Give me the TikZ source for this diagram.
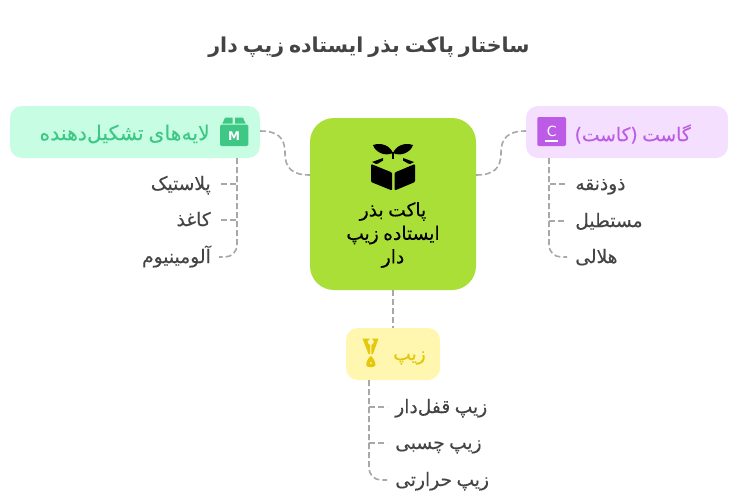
\documentclass[tikz,border=0pt]{standalone}
\usepackage{fontspec}
\newfontfamily\arabicfont[Script=Arabic,WordSpace=0.75,FakeBold=0.12]{DejaVu Sans}
\newfontfamily\titlefont[Script=Arabic,WordSpace=0.7]{DejaVu Sans Bold}
\setmainfont{DejaVu Sans}
\TeXXeTstate=1
\newcommand{\fa}[1]{{\arabicfont\beginR #1\endR}}
\usepackage{xcolor}
\definecolor{rootgreen}{HTML}{A9DF36}
\definecolor{mintbox}{HTML}{C7FEE3}
\definecolor{mintink}{HTML}{3FC885}
\definecolor{lilacbox}{HTML}{F4DFFF}
\definecolor{lilacink}{HTML}{BC5BE6}
\definecolor{lemonbox}{HTML}{FFF6AF}
\definecolor{lemonink}{HTML}{E5C70C}
\definecolor{leafink}{HTML}{444444}
\definecolor{linkgray}{HTML}{A8A8A8}
\usetikzlibrary{arrows.meta}
\tikzset{
  headbox/.style={rounded corners=9pt,inner sep=0pt},
  headtext/.style={inner sep=0pt,font=\fontsize{14pt}{17pt}\selectfont},
  leaftext/.style={inner xsep=6pt,inner ysep=0pt,text=leafink,text height=10.5pt,text depth=1.5pt,
    font=\fontsize{14pt}{17pt}\selectfont},
  link/.style={draw=linkgray,line width=1.2pt,dash pattern=on 4.5pt off 2.25pt},
  lastlink/.style={link,rounded corners=9pt},
}

\begin{document}
\begin{tikzpicture}[x=0.75pt,y=-0.75pt]
  \path[use as bounding box,fill=white] (0,0) rectangle (753,503);

  \node[text=leafink,font=\fontsize{15.4pt}{19pt}\selectfont,inner sep=0pt](title) at (369,47) {{\titlefont\beginR ساختار پاکت بذر ایستاده زیپ دار\endR}};

  % root
  \node[fill=rootgreen,rounded corners=18pt,inner sep=0pt,minimum width=124.5pt,minimum height=129pt](root) at (393,204) {};
  \node[align=center,inner sep=0pt,font=\fontsize{14pt}{17.6pt}\selectfont](roottext) at (393,235) {\fa{پاکت بذر}\\\fa{ایستاده زیپ}\\\fa{دار}};
  \fill[rounded corners=.8pt] (371,164) -- (392,172.5) -- (392,190.5) -- (371,182) -- cycle;
  \fill[rounded corners=.8pt] (394.7,172.5) -- (415,164) -- (415,182) -- (394.7,190.5) -- cycle;
  \fill (372,162) -- (383,158) -- (383,160.5) -- (378,163.5) -- (376,164) -- cycle;
  \fill (414,162) -- (403,158) -- (403,160.5) -- (408,163.5) -- (410,164) -- cycle;
  \fill (393,153) .. controls (390,146) and (382,142) .. (373,145) .. controls (375,152) and (385,157) .. cycle;
  \fill (393,153) .. controls (396,146) and (404,142) .. (413,145) .. controls (411,152) and (401,157) .. cycle;
  \draw[line width=1pt] (393,152) -- (393,159);

  % layers
  \node[headbox,fill=mintbox,minimum width=187.5pt,minimum height=39pt](layers) at (135,132) {};
  \node[headtext,text=mintink,anchor=east,font=\fontsize{15.3pt}{17pt}\selectfont](layerstext) at (210,134) {\fa{لایه‌های تشکیل‌دهنده}};
  \fill[mintink,rounded corners=1pt] (220,124.7) rectangle (248.3,146);
  \fill[mintink] (222.3,123.7) -- (225,117.7) -- (232.7,117.7) -- (232.7,123.7) -- cycle;
  \fill[mintink] (235,123.7) -- (235,117.7) -- (243,117.7) -- (245.7,123.7) -- cycle;
  \node[text=white,inner sep=0pt,font=\bfseries\fontsize{9pt}{10pt}\selectfont](layersicon) at (234,136) {M};
  \coordinate (layersstem) at (237,158);
  \node[leaftext,anchor=east](plastic) at (219,184) {\fa{پلاستیک}};
  \node[leaftext,anchor=east](paper) at (219,220) {\fa{کاغذ}};
  \node[leaftext,anchor=east](foil) at (219,257) {\fa{آلومینیوم}};

  % cassette
  \node[headbox,fill=lilacbox,minimum width=151.5pt,minimum height=39pt](gusset) at (627,132) {};
  \node[headtext,text=lilacink,anchor=east](gussettext) at (691,134) {\fa{گاست (کاست)}};
  \fill[lilacink,rounded corners=1pt] (537.3,117) rectangle (566,146);
  \node[text=white,inner sep=0pt,font=\fontsize{10.5pt}{11pt}\selectfont](gussticon) at (551.7,131) {C};
  \draw[white,line width=.9pt] (545,141) -- (558.3,141);
  \coordinate (gussetstem) at (549,158);
  \node[leaftext,anchor=west](trapezoid) at (567,184) {\fa{ذوذنقه}};
  \node[leaftext,anchor=west](rectangle) at (567,221) {\fa{مستطیل}};
  \node[leaftext,anchor=west](crescent) at (567,257) {\fa{هلالی}};

  % zipper
  \node[headbox,fill=lemonbox,minimum width=70.5pt,minimum height=39pt](zipper) at (393,354) {};
  \node[headtext,text=lemonink,anchor=east](zippertext) at (426,358) {\fa{زیپ}};
  \fill[lemonink,even odd rule] (370.8,356) .. controls (367.5,358.5) and (365.8,363) .. (366.3,365.5) .. controls (367,367.8) and (374.6,367.8) .. (375.3,365.5) .. controls (375.8,363) and (374,358.5) .. (370.8,356) -- cycle (370.8,363) circle[radius=1.3];
  \fill[lemonink] (362.5,338.5) -- (370,338.5) -- (367.5,341.5) -- (368.5,344) -- (370.2,345) -- (370.2,354) -- (368.5,354) -- cycle;
  \fill[lemonink] (378.5,338.5) -- (372,338.5) -- (374,341.5) -- (373,344) -- (371.4,345) -- (371.4,354) -- (373,354) -- cycle;
  \coordinate (zipperstem) at (369,380);
  \node[leaftext,anchor=west](lockzip) at (387,407) {\fa{زیپ قفل‌دار}};
  \node[leaftext,anchor=west](gluezip) at (387,443) {\fa{زیپ چسبی}};
  \node[leaftext,anchor=west](heatzip) at (387,480) {\fa{زیپ حرارتی}};

  % links
  \coordinate (rootleft) at (310,175);
  \coordinate (rootright) at (476,175);
  \coordinate (layersend) at (260,131);
  \coordinate (gussetend) at (526,131);
  \draw[link] (layersend) .. controls (278,131) and (285,138) .. (285,153) .. controls (285,168) and (292,175) .. (rootleft);
  \draw[link] (rootright) .. controls (494,175) and (501,168) .. (501,153) .. controls (501,138) and (508,131) .. (gussetend);
  \draw[link] (root.south) -- (zipper.north);

  \draw[link] (layersstem) |- (plastic.east);
  \draw[link] (layersstem) |- (paper.east);
  \draw[lastlink] (layersstem) |- (foil.east);
  \draw[link] (gussetstem) |- (trapezoid.west);
  \draw[link] (gussetstem) |- (rectangle.west);
  \draw[lastlink] (gussetstem) |- (crescent.west);
  \draw[link] (zipperstem) |- (lockzip.west);
  \draw[link] (zipperstem) |- (gluezip.west);
  \draw[lastlink] (zipperstem) |- (heatzip.west);
\end{tikzpicture}
\end{document}
